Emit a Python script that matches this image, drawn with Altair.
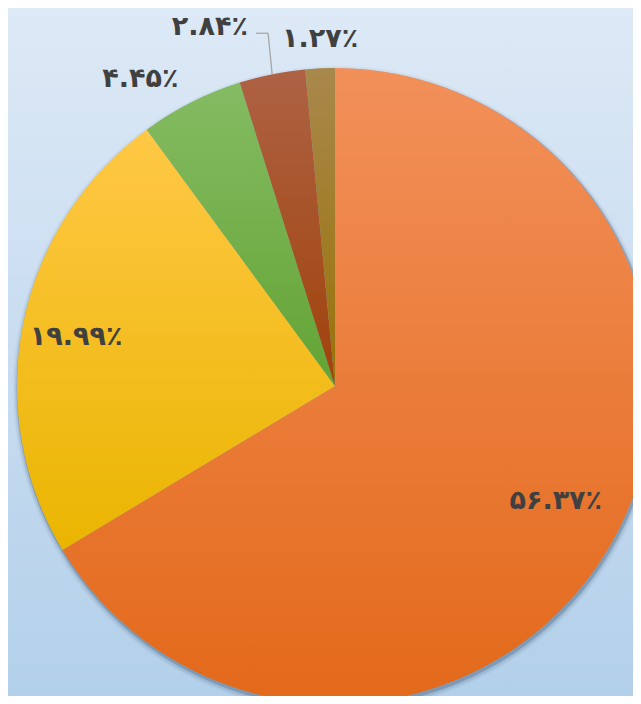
import math
import altair as alt
import pandas as pd

# ---- data ----
slices = ["s1", "s2", "s3", "s4", "s5"]
values = [56.37, 19.99, 4.45, 2.84, 1.27]
labels = ["۵۶.۳۷٪", "۱۹.۹۹٪", "۴.۴۵٪", "۲.۸۴٪", "۱.۲۷٪"]
order = [1, 2, 3, 4, 5]

df = pd.DataFrame({"slice": slices, "value": values, "label": labels, "order": order})

# ---- layout / style ----
W, H = 625, 688
CX, CY = 327, 378
R = 318
FONT = "DejaVu Sans"

gradients = {
    "s1": ("#F2905A", "#E3691A"),
    "s2": ("#FFC846", "#EAB500"),
    "s3": ("#85BB63", "#63A434"),
    "s4": ("#AE6244", "#A0420A"),
    "s5": ("#A9884C", "#997206"),
}
label_pos = {  # radius, dx, dy
    "s1": (249, 4, -8),
    "s2": (263, -1, 3),
    "s3": (340, -41, -4),
    "s4": (340, -58, -26),
    "s5": (340, 1, -7),
}


def grad(c1, c2):
    return alt.Gradient(
        gradient="linear", x1=0, y1=0, x2=0, y2=1,
        stops=[alt.GradientStop(color=c1, offset=0), alt.GradientStop(color=c2, offset=1)],
    )


theta_scale = alt.Scale(domain=[0, 1], range=[0, 2 * math.pi])

base = (
    alt.Chart(df)
    .transform_joinaggregate(total="sum(value)")
    .transform_window(cum="sum(value)", sort=[alt.SortField("order")], frame=[None, 0])
    .transform_calculate(
        end="datum.cum / datum.total",
        start="(datum.cum - datum.value) / datum.total",
        mid="(datum.cum - datum.value / 2) / datum.total",
    )
)

one = alt.Data(values=[{}])

bg = alt.Chart(one).mark_rect(color=grad("#DDE9F6", "#B3D0EA")).encode(
    x=alt.value(0), x2=alt.value(W), y=alt.value(0), y2=alt.value(H)
)

shadows = [
    alt.Chart(one).mark_arc(radius=R + rr, theta=0, theta2=2 * math.pi, color="#1F3A5A", opacity=op)
    .encode(x=alt.value(CX + ox), y=alt.value(CY + oy))
    for rr, ox, oy, op in [(5, 1, 3, 0.05), (3, 1, 3, 0.10), (1.5, 1, 2, 0.25)]
]

arcs = []
for s in slices:
    c1, c2 = gradients[s]
    arcs.append(
        base.transform_filter(alt.datum.slice == s)
        .mark_arc(radius=R, color=grad(c1, c2), strokeWidth=0)
        .encode(
            theta=alt.Theta("start:Q", scale=theta_scale),
            theta2="end:Q",
            x=alt.value(CX),
            y=alt.value(CY),
        )
    )

leader_src = base.transform_filter(alt.datum.slice == "s4").transform_calculate(
    ex=f"{CX} + {R} * sin(datum.mid * 2 * PI)",
    ey=f"{CY} - {R} * cos(datum.mid * 2 * PI)",
).transform_calculate(
    ly="datum.ey - 41", elx="datum.ex - 4", sx="datum.ex - 16"
)
leader1 = leader_src.mark_rule(color="#A6A6A6", strokeWidth=1.3).encode(
    x=alt.X("sx:Q", scale=None), x2="elx:Q", y=alt.Y("ly:Q", scale=None)
)
leader2 = leader_src.mark_rule(color="#A6A6A6", strokeWidth=1.3).encode(
    x=alt.X("elx:Q", scale=None), x2="ex:Q", y=alt.Y("ly:Q", scale=None), y2="ey:Q"
)

texts = []
for s in slices:
    r, dx, dy = label_pos[s]
    texts.append(
        base.transform_filter(alt.datum.slice == s)
        .mark_text(
            radius=r, dx=dx, dy=dy, align="center", baseline="middle",
            font=FONT, fontSize=27, fontWeight="bold", color="#404040",
        )
        .encode(
            theta=alt.Theta("mid:Q", scale=theta_scale),
            text="label:N",
            x=alt.value(CX),
            y=alt.value(CY),
        )
    )

chart = (
    alt.layer(bg, *shadows, *arcs, leader1, leader2, *texts)
    .properties(width=W, height=H, autosize=alt.AutoSizeParams(type="none"), padding=0)
    .configure_view(stroke=None)
)

chart.save("out.html", embed_options={"renderer": "svg", "actions": False})
